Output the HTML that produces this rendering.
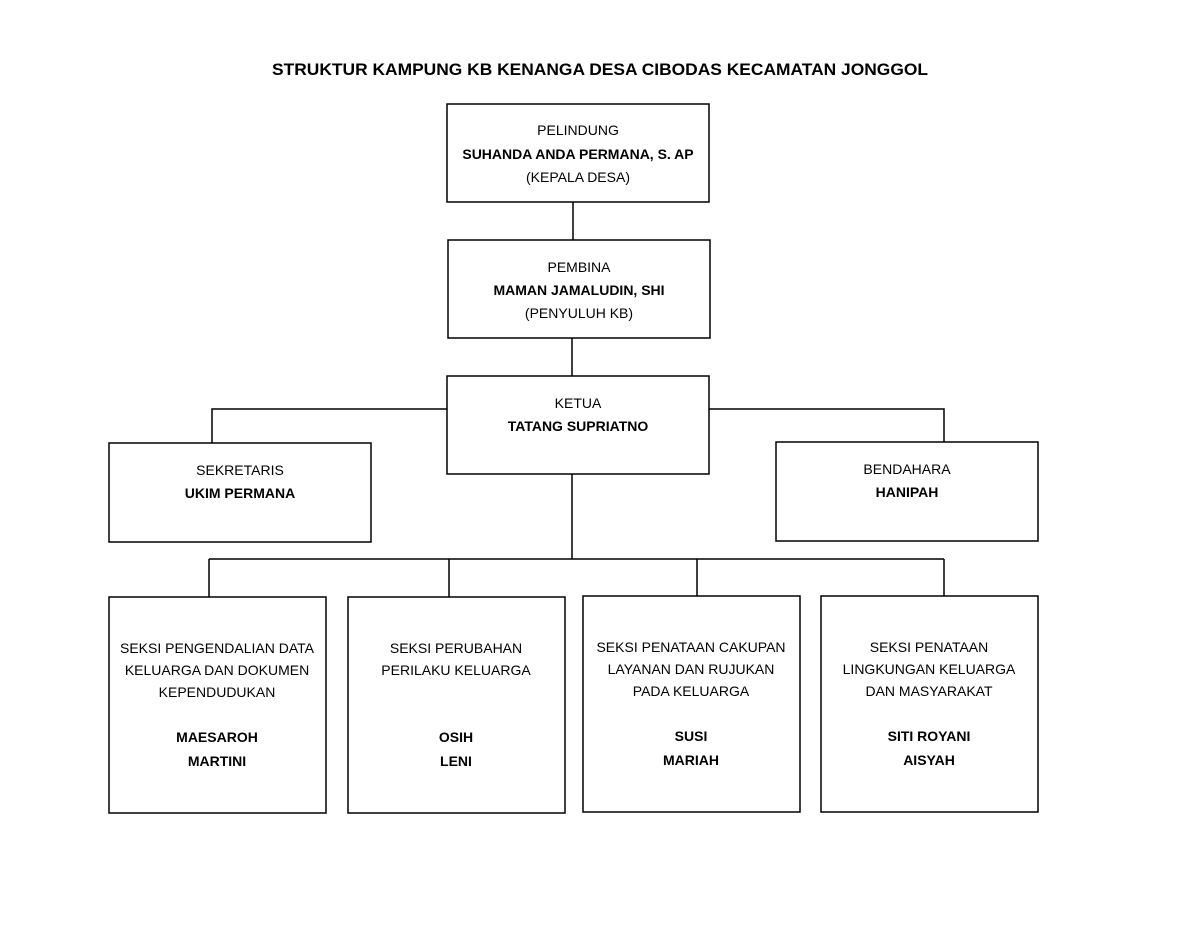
<!DOCTYPE html>
<html><head><meta charset="utf-8"><style>
html,body{margin:0;padding:0;background:#fff;}
svg text{font-family:"Liberation Sans",sans-serif;font-size:14px;fill:#000;text-anchor:middle;}
.b{font-weight:bold;}
</style></head><body>
<svg width="1200" height="927" xmlns="http://www.w3.org/2000/svg">
<text x="600" y="75" class="b" style="font-size:17px" textLength="656" lengthAdjust="spacingAndGlyphs">STRUKTUR KAMPUNG KB KENANGA DESA CIBODAS KECAMATAN JONGGOL</text>
<g fill="none" stroke="#000" stroke-width="1.5">
<rect x="447" y="104" width="262" height="98"/>
<rect x="448" y="240" width="262" height="98"/>
<rect x="447" y="376" width="262" height="98"/>
<rect x="109" y="443" width="262" height="99"/>
<rect x="776" y="442" width="262" height="99"/>
<rect x="109" y="597" width="217" height="216"/>
<rect x="348" y="597" width="217" height="216"/>
<rect x="583" y="596" width="217" height="216"/>
<rect x="821" y="596" width="217" height="216"/>
<path d="M573 202V240M572 338V376M447 409H212V443M709 409H944V442M572 474V559M209 559H944M209 559V597M449 559V597M697 559V596M944 559V596"/>
</g>
<text x="578" y="135">PELINDUNG</text>
<text x="578" y="159" class="b">SUHANDA ANDA PERMANA, S. AP</text>
<text x="578" y="182">(KEPALA DESA)</text>
<text x="579" y="272">PEMBINA</text>
<text x="579" y="295" class="b">MAMAN JAMALUDIN, SHI</text>
<text x="579" y="318">(PENYULUH KB)</text>
<text x="578" y="408">KETUA</text>
<text x="578" y="431" class="b">TATANG SUPRIATNO</text>
<text x="240" y="475">SEKRETARIS</text>
<text x="240" y="498" class="b">UKIM PERMANA</text>
<text x="907" y="474">BENDAHARA</text>
<text x="907" y="497" class="b">HANIPAH</text>
<text x="217" y="653">SEKSI PENGENDALIAN DATA</text>
<text x="217" y="675">KELUARGA DAN DOKUMEN</text>
<text x="217" y="697">KEPENDUDUKAN</text>
<text x="217" y="742" class="b">MAESAROH</text>
<text x="217" y="766" class="b">MARTINI</text>
<text x="456" y="653">SEKSI PERUBAHAN</text>
<text x="456" y="675">PERILAKU KELUARGA</text>
<text x="456" y="742" class="b">OSIH</text>
<text x="456" y="766" class="b">LENI</text>
<text x="691" y="652">SEKSI PENATAAN CAKUPAN</text>
<text x="691" y="674">LAYANAN DAN RUJUKAN</text>
<text x="691" y="696">PADA KELUARGA</text>
<text x="691" y="741" class="b">SUSI</text>
<text x="691" y="765" class="b">MARIAH</text>
<text x="929" y="652">SEKSI PENATAAN</text>
<text x="929" y="674">LINGKUNGAN KELUARGA</text>
<text x="929" y="696">DAN MASYARAKAT</text>
<text x="929" y="741" class="b">SITI ROYANI</text>
<text x="929" y="765" class="b">AISYAH</text>
</svg>
</body></html>
